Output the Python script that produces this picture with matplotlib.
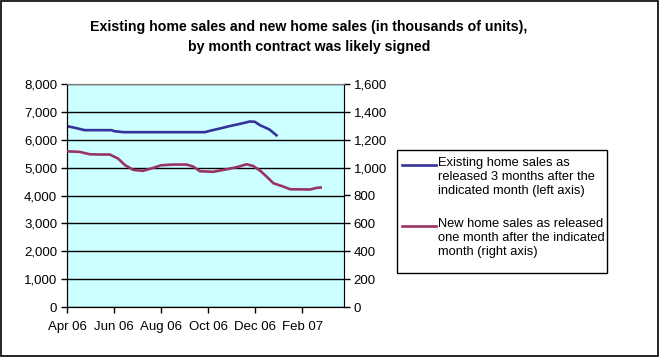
import matplotlib
matplotlib.use("Agg")
import matplotlib.pyplot as plt
from matplotlib.lines import Line2D
from matplotlib.patches import Rectangle
from matplotlib.ticker import FuncFormatter

plt.rcParams["font.family"] = ["Liberation Sans", "DejaVu Sans"]

# months after Apr 2006
existing_x = [0, 0.33, 0.75, 1.9, 2.0, 2.4, 5.86, 6.07, 6.5, 6.9, 7.35, 7.77, 7.98, 8.2, 8.6, 8.9]
existing_val = [6487, 6430, 6344, 6344, 6308, 6272, 6272, 6320, 6405, 6487, 6570, 6655, 6645,
                6523, 6369, 6160]

new_x = [0, 0.54, 0.96, 1.39, 1.82, 2.17, 2.45, 2.81, 3.23, 3.66, 4.0, 4.51, 5.08, 5.36, 5.65,
         6.21, 6.78, 7.21, 7.63, 7.91, 8.2, 8.48, 8.77, 9.19, 9.48, 10.33, 10.61, 10.78]
new_val = [1117, 1113, 1096, 1094, 1094, 1065, 1020, 984, 977, 998, 1017, 1022, 1022, 1008, 974,
           970, 988, 1003, 1024, 1012, 979, 936, 888, 864, 845, 843, 855, 857]

tick_pos = [0, 2, 4, 6, 8, 10]
tick_labels = ["Apr 06", "Jun 06", "Aug 06", "Oct 06", "Dec 06", "Feb 07"]

BLUE = "#333399"
PINK = "#993366"
FS = 9.5

fig = plt.figure(figsize=(6.59, 3.57), dpi=100)
fig.patch.set_facecolor("white")
fig.add_artist(Rectangle((0.001, 0.002), 0.997, 0.996, transform=fig.transFigure,
                         fill=False, ec="black", lw=1.2))

ax = fig.add_axes([67 / 659, 1 - 307 / 357, 277 / 659, 223 / 357])
ax.set_facecolor("#CCFFFF")
ax.plot(existing_x, existing_val, color=BLUE, lw=1.9, zorder=3)
ax.set_xlim(0, 11.77)
ax.set_ylim(0, 8000)
ax.set_yticks(range(0, 8001, 1000))
ax.yaxis.set_major_formatter(FuncFormatter(lambda v, p: f"{int(v):,}"))
ax.set_xticks(tick_pos)
ax.set_xticklabels(tick_labels)
ax.grid(axis="y", color="black", lw=1)
ax.set_axisbelow(True)
for s in ["top", "right"]:
    ax.spines[s].set_color("#808080")
ax.spines["left"].set_color("black")
ax.spines["bottom"].set_color("black")
ax.tick_params(axis="y", direction="out", length=4, width=1, labelsize=FS, pad=3)
ax.tick_params(axis="x", direction="out", length=4, width=1, labelsize=FS, pad=6)

ax2 = ax.twinx()
ax2.plot(new_x, new_val, color=PINK, lw=1.9, zorder=3)
ax2.set_ylim(0, 1600)
ax2.set_yticks(range(0, 1601, 200))
ax2.yaxis.set_major_formatter(FuncFormatter(lambda v, p: f"{int(v):,}"))
ax2.spines["right"].set_color("black")
ax2.spines["top"].set_color("#808080")
ax2.tick_params(axis="y", direction="out", length=4, width=1, labelsize=FS, pad=3)

# legend box drawn in pixel positions of the figure
W, H = 659, 357
fig.add_artist(Rectangle((397 / W, 1 - 273 / H), 210 / W, 123 / H, transform=fig.transFigure,
                         fill=True, fc="white", ec="black", lw=1))
legend_items = [
    (BLUE, 165, "Existing home sales as\nreleased 3 months after the\nindicated month (left axis)"),
    (PINK, 226, "New home sales as released\none month after the indicated\nmonth (right axis)"),
]
for col, y, txt in legend_items:
    fig.add_artist(Line2D([402 / W, 436 / W], [1 - y / H, 1 - y / H], transform=fig.transFigure,
                          color=col, lw=1.9))
    fig.text(438 / W, 1 - (y - 8) / H, txt, ha="left", va="top", fontsize=9.3,
             linespacing=1.2)

fig.text(309 / W, 1 - 37 / H,
         "Existing home sales and new home sales (in thousands of units),\n"
         "by month contract was likely signed",
         ha="center", va="center", fontsize=10.2, fontweight="bold", linespacing=1.6)

fig.savefig("out.png", dpi=100, facecolor="white")
